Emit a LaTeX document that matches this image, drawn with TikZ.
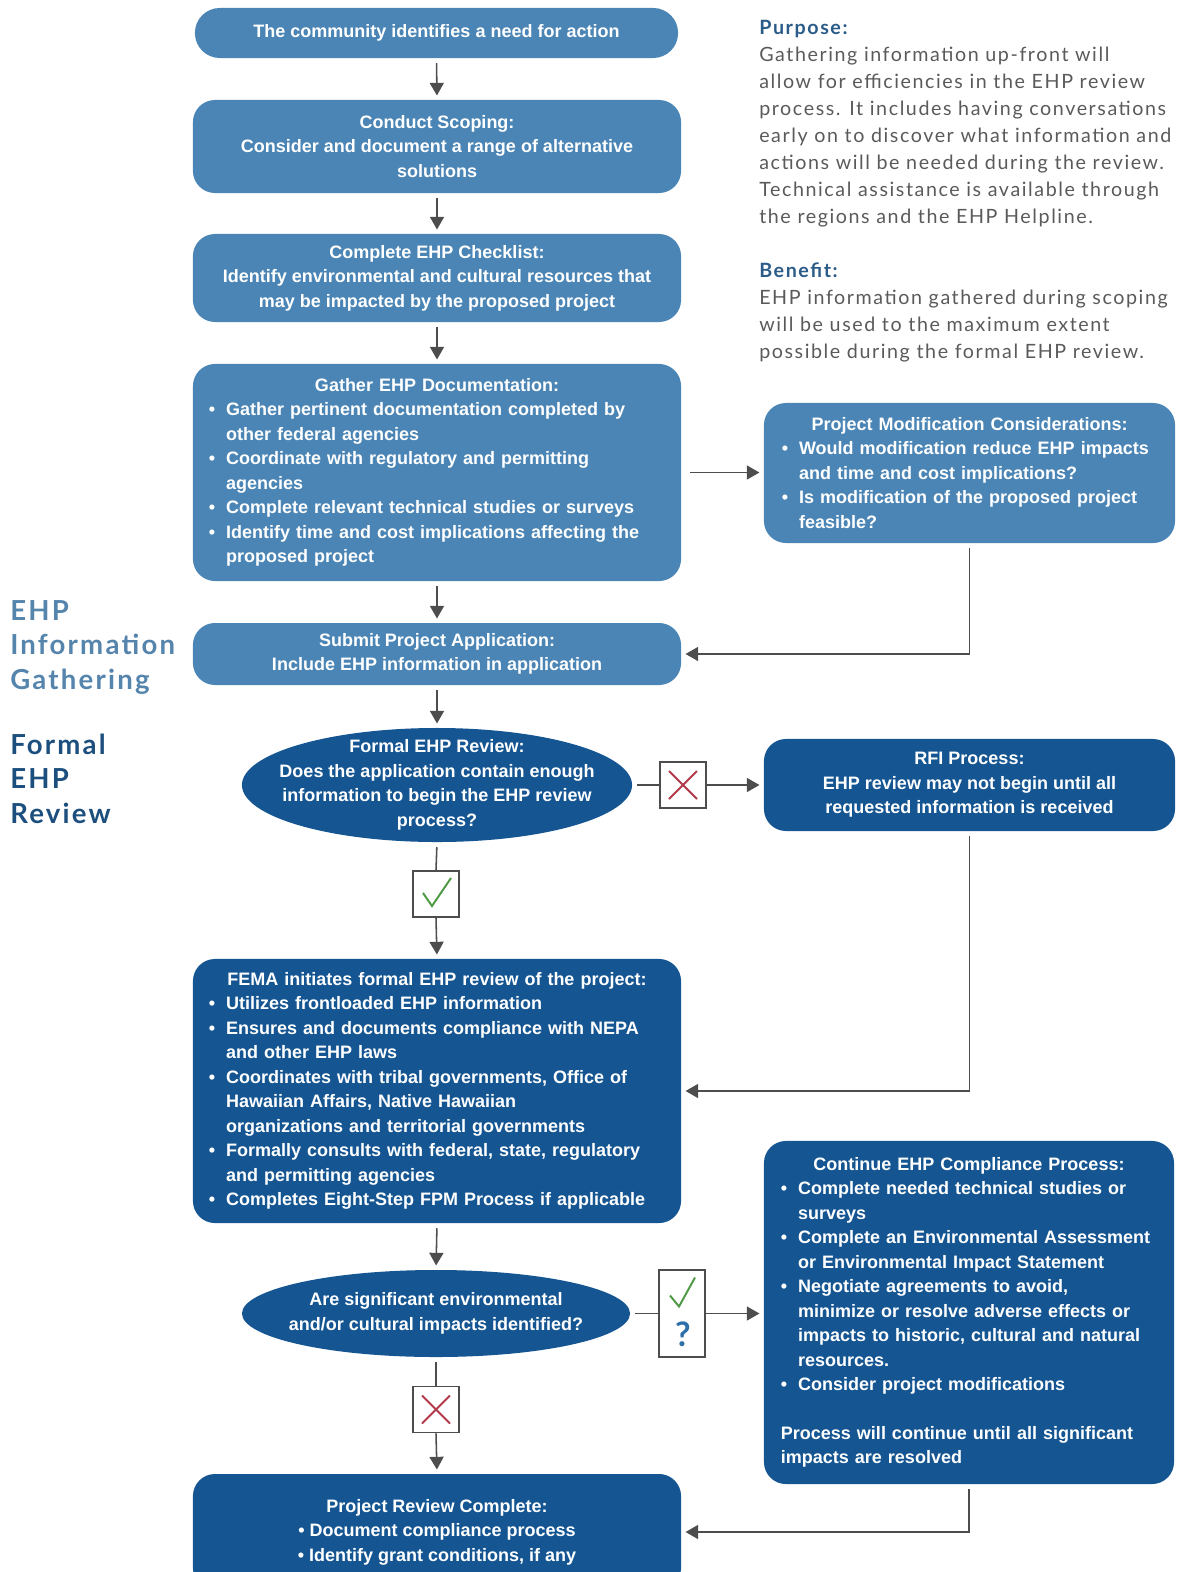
\documentclass[tikz,border=0pt]{standalone}
\usepackage{fontspec}
\setmainfont{Lato}
\newfontfamily\boxface{Liberation Sans}
\newfontfamily\sideface[LetterSpace=8]{Lato}
\newfontfamily\noteface[LetterSpace=8]{Lato}
\usetikzlibrary{shapes, arrows.meta, positioning, shapes.geometric}

\definecolor{lightblue}{HTML}{4A85B5}
\definecolor{darkblue}{HTML}{145592}
\definecolor{linegray}{HTML}{4D4D4D}
\definecolor{headblue}{HTML}{2B5B88}
\definecolor{gathblue}{HTML}{5584AC}
\definecolor{reviewblue}{HTML}{1D4F7E}
\definecolor{textgray}{HTML}{5A5A5A}
\definecolor{yesgreen}{HTML}{4E9A45}
\definecolor{nored}{HTML}{B23A4A}
\definecolor{askblue}{HTML}{2D6FA8}

\newcommand{\boxfont}{\boxface\fontsize{12.8}{17.4}\selectfont\bfseries}
\newcommand{\bl}[1]{\par\noindent\makebox[0.95em][l]{\textbullet}#1}
\newcommand{\cl}[1]{\par\noindent\hspace*{0.95em}#1}

\begin{document}
\begin{tikzpicture}[
    x=0.025cm, y=-0.025cm,
    light box/.style={rectangle, rounded corners=0.55cm, fill=lightblue, text=white, font=\boxfont, align=center, inner sep=0pt, minimum width=12.2cm},
    dark box/.style={light box, fill=darkblue},
    dark oval/.style={ellipse, fill=darkblue, inner sep=0pt},
    oval text/.style={text=white, font=\boxfont, align=center, inner sep=0pt},
    mark box/.style={rectangle, draw=linegray, line width=1.3pt, fill=white, minimum width=1.15cm, minimum height=1.15cm, inner sep=0pt},
    arrow/.style={-{Triangle[width=10pt,length=9pt]}, line width=1.1pt, draw=linegray, shorten <=3.5pt, shorten >=3pt},
    link/.style={line width=1.1pt, draw=linegray, shorten <=3.5pt}
    ]

    \useasboundingbox (0,0) rectangle (1182,1572);

    % left side labels (base = last line)
    \node[anchor=base west, align=left, inner sep=0pt, text=gathblue, font=\sideface\fontsize{19.6}{24.4}\selectfont\bfseries] (gathlbl) at (10,689) {EHP\\Information\\Gathering};
    \node[anchor=base west, align=left, inner sep=0pt, text=reviewblue, font=\sideface\fontsize{19.6}{24.4}\selectfont\bfseries] (formlbl) at (10,823) {Formal\\EHP\\Review};

    % right side text
    \node[anchor=base west, align=left, inner sep=0pt, text=textgray, font=\noteface\fontsize{14}{19.2}\selectfont] (purpose) at (759,358) {%
        {\bfseries\color{headblue}Purpose:}\\
        Gathering information up-front will\\
        allow for efficiencies in the EHP review\\
        process. It includes having conversations\\
        early on to discover what information and\\
        actions will be needed during the review.\\
        Technical assistance is available through\\
        the regions and the EHP Helpline.\\[19.2pt]
        {\bfseries\color{headblue}Benefit:}\\
        EHP information gathered during scoping\\
        will be used to the maximum extent\\
        possible during the formal EHP review.};

    % information gathering
    \node[light box, minimum width=12.075cm, minimum height=1.25cm, rounded corners=0.62cm] (need) at (436.5,33) {The community identifies a need for action};

    \node[light box, minimum height=2.325cm] (scoping) at (437,146.5) {Conduct Scoping:\\Consider and document a range of alternative\\solutions};

    \node[light box, minimum height=2.2cm] (checklist) at (437,278) {Complete EHP Checklist:\\Identify environmental and cultural resources that\\may be impacted by the proposed project};

    \node[light box, minimum height=5.425cm, text width=11.4cm, align=left] (gather) at (437,472.5) {%
        {\centering Gather EHP Documentation:\par}
        \bl{Gather pertinent documentation completed by}
        \cl{other federal agencies}
        \bl{Coordinate with regulatory and permitting}
        \cl{agencies}
        \bl{Complete relevant technical studies or surveys}
        \bl{Identify time and cost implications affecting the}
        \cl{proposed project}};

    \node[light box, minimum height=1.55cm] (submit) at (437,654) {Submit Project Application:\\Include EHP information in application};

    \node[light box, minimum width=10.275cm, minimum height=3.5cm, text width=9.375cm, align=left] (modify) at (969.5,473) {%
        {\centering Project Modification Considerations:\par}
        \bl{Would modification reduce EHP impacts}
        \cl{and time and cost implications?}
        \bl{Is modification of the proposed project}
        \cl{feasible?}};

    % formal review
    \node[dark oval, minimum width=9.75cm, minimum height=2.85cm] (enough) at (437,785) {};
    \node[oval text] (enoughtxt) at (enough.center) {Formal EHP Review:\\Does the application contain enough\\information to begin the EHP review\\process?};

    \node[mark box] (nofirst) at (683,785) {};
    \draw[nored, line width=1.3pt] ([shift={(-14,-14)}]nofirst.center) -- ([shift={(14,14)}]nofirst.center);
    \draw[nored, line width=1.3pt] ([shift={(14,-14)}]nofirst.center) -- ([shift={(-14,14)}]nofirst.center);

    \node[dark box, minimum width=10.275cm, minimum height=2.3cm] (rfi) at (969.5,785) {RFI Process:\\EHP review may not begin until all\\requested information is received};

    \node[mark box] (yes) at (436,894) {};
    \draw[yesgreen, line width=1.4pt] ([shift={(-13,-1)}]yes.center) -- ([shift={(-4,12)}]yes.center) -- ([shift={(15,-16)}]yes.center);

    \node[dark box, minimum height=6.6cm, text width=11.4cm, align=left] (fema) at (437,1091) {%
        {\centering FEMA initiates formal EHP review of the project:\par}
        \bl{Utilizes frontloaded EHP information}
        \bl{Ensures and documents compliance with NEPA}
        \cl{and other EHP laws}
        \bl{Coordinates with tribal governments, Office of}
        \cl{Hawaiian Affairs, Native Hawaiian}
        \cl{organizations and territorial governments}
        \bl{Formally consults with federal, state, regulatory}
        \cl{and permitting agencies}
        \bl{Completes Eight-Step FPM Process if applicable}};

    \node[dark oval, minimum width=9.7cm, minimum height=2.175cm] (impacts) at (436,1313.5) {};
    \node[oval text] (impactstxt) at (impacts.center) {Are significant environmental\\and/or cultural impacts identified?};

    \node[mark box, minimum height=2.175cm] (maybe) at (682,1313.5) {};
    \draw[yesgreen, line width=1.4pt] ([shift={(-12,-18)}]maybe.center) -- ([shift={(-3,-7)}]maybe.center) -- ([shift={(13,-36)}]maybe.center);
    \node[text=askblue, font=\fontsize{24}{24}\selectfont\bfseries, inner sep=0pt] (ask) at ([shift={(1,21)}]maybe.center) {?};

    \node[mark box] (nosecond) at (436,1409.5) {};
    \draw[nored, line width=1.3pt] ([shift={(-14,-14)}]nosecond.center) -- ([shift={(14,14)}]nosecond.center);
    \draw[nored, line width=1.3pt] ([shift={(14,-14)}]nosecond.center) -- ([shift={(-14,14)}]nosecond.center);

    \node[dark box, minimum width=10.25cm, minimum height=8.575cm, text width=9.4cm, align=left] (continue) at (969,1312.5) {%
        {\centering Continue EHP Compliance Process:\par}
        \bl{Complete needed technical studies or}
        \cl{surveys}
        \bl{Complete an Environmental Assessment}
        \cl{or Environmental Impact Statement}
        \bl{Negotiate agreements to avoid,}
        \cl{minimize or resolve adverse effects or}
        \cl{impacts to historic, cultural and natural}
        \cl{resources.}
        \bl{Consider project modifications}
        \par\vspace{17.4pt}
        \noindent Process will continue until all significant\par
        \noindent impacts are resolved};

    \node[dark box, minimum height=2.9cm] (complete) at (437,1532) {Project Review Complete:\\\textbullet\ Document compliance process\\\textbullet\ Identify grant conditions, if any};

    % arrows
    \draw[arrow] (need.south) -- (scoping.north);
    \draw[arrow] (scoping.south) -- (checklist.north);
    \draw[arrow] (checklist.south) -- (gather.north);
    \draw[arrow] (gather.south) -- (submit.north);
    \draw[arrow, shorten <=6pt] (gather.east) -- (gather.east -| modify.west);
    \draw[arrow] (modify.south) |- (submit.east);
    \draw[arrow] (submit.south) -- (enough.north);

    \draw[link] (enough.east) -- (nofirst.west);
    \draw[arrow, shorten <=0pt] (nofirst.east) -- (rfi.west);
    \draw[arrow] (rfi.south) |- (fema.east);
    \draw[link] (enough.south) -- (yes.north);
    \draw[arrow, shorten <=0pt] (yes.south) -- (fema.north);

    \draw[arrow] (fema.south) -- (impacts.north);
    \draw[link] (impacts.east) -- (maybe.west);
    \draw[arrow, shorten <=0pt] (maybe.east) -- (maybe.east -| continue.west);
    \draw[link] (impacts.south) -- (nosecond.north);
    \draw[arrow, shorten <=0pt] (nosecond.south) -- (complete.north);
    \draw[arrow] (continue.south) |- (complete.east);

\end{tikzpicture}
\end{document}
